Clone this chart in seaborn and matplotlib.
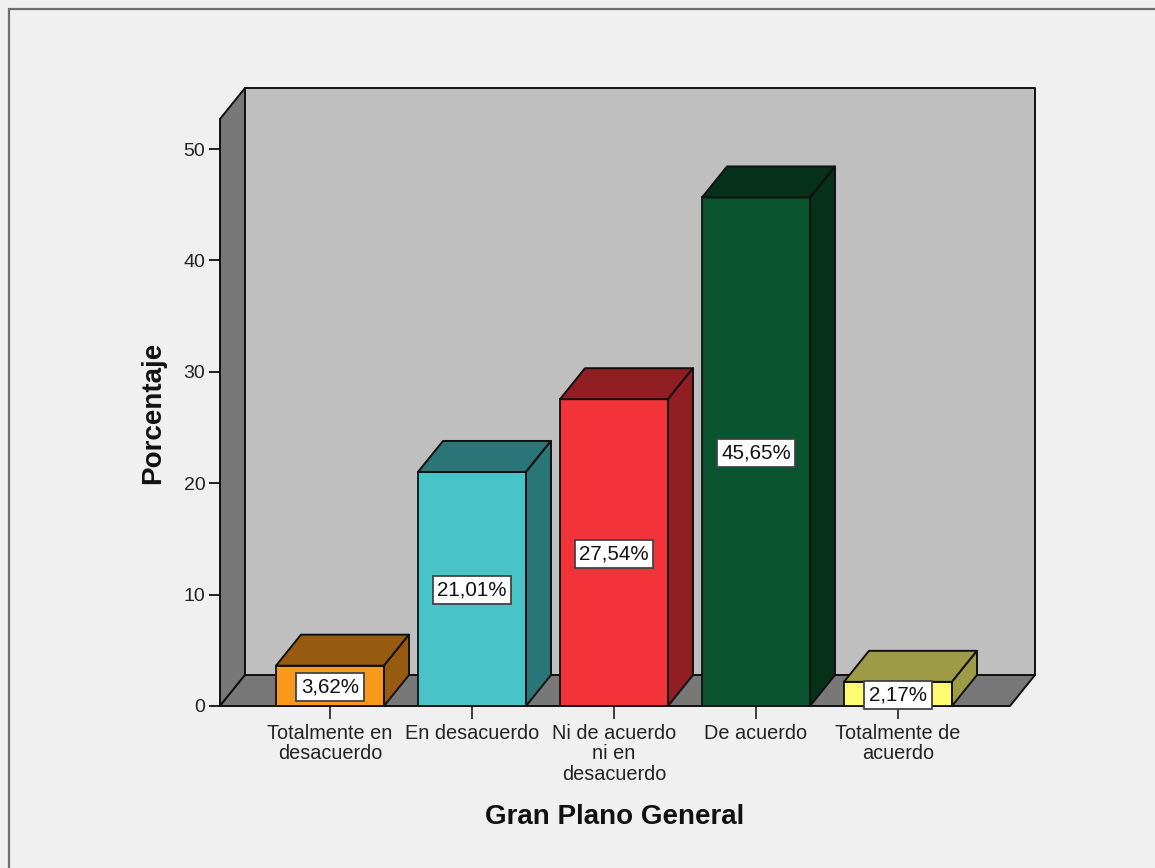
import matplotlib
matplotlib.use("Agg")
import matplotlib.pyplot as plt
import pandas as pd
import seaborn as sns
from matplotlib.lines import Line2D
from matplotlib.patches import Polygon

categories = ["Totalmente en\ndesacuerdo", "En desacuerdo", "Ni de acuerdo\nni en\ndesacuerdo",
              "De acuerdo", "Totalmente de\nacuerdo"]
percent = [3.62, 21.01, 27.54, 45.65, 2.17]
front_colors = ["#F8981D", "#48C3C8", "#F23339", "#0A5530", "#FFFB73"]
side_colors = ["#965B10", "#2A7578", "#911E22", "#063019", "#9D9B45"]
y_ticks = [0, 10, 20, 30, 40, 50]

W, H = 1155, 868
L, R, B, T = 220, 1010, 706, 119      # front plane of the chart, pixels from top-left
PX_PER_UNIT = 11.14
CAT_STEP = 142
CAT0 = 330
DEPTH_X, DEPTH_Y = 25, 31

sns.set_theme(style="white")
plt.rcParams["font.family"] = ["Liberation Sans", "DejaVu Sans"]

fig = plt.figure(figsize=(W / 100, H / 100), dpi=100, facecolor="#F0F0F0")
ax = fig.add_axes([L / W, 1 - B / H, (R - L) / W, (B - T) / H])
ax.patch.set_visible(False)

df = pd.DataFrame({"cat": categories, "pct": percent})
sns.barplot(data=df, x="cat", y="pct", hue="cat", palette=front_colors, saturation=1,
            legend=False, dodge=False, width=108 / CAT_STEP, edgecolor="#101010",
            linewidth=1.3, ax=ax, zorder=5)

ax.set_xlim((L - CAT0) / CAT_STEP, (R - CAT0) / CAT_STEP)
ax.set_ylim(0, (B - T) / PX_PER_UNIT)
dx = DEPTH_X / CAT_STEP
dy = DEPTH_Y / PX_PER_UNIT
x0, x1 = ax.get_xlim()
y0, y1 = ax.get_ylim()

edge = dict(edgecolor="#101010", linewidth=1.4, clip_on=False, joinstyle="round")
ax.add_patch(Polygon([(x0, y0), (x0 + dx, y0 + dy), (x0 + dx, y1 + dy), (x0, y1)],
                     facecolor="#787878", zorder=1, **edge))
ax.add_patch(Polygon([(x0, y0), (x1, y0), (x1 + dx, y0 + dy), (x0 + dx, y0 + dy)],
                     facecolor="#787878", zorder=1, **edge))
ax.add_patch(Polygon([(x0 + dx, y0 + dy), (x1 + dx, y0 + dy), (x1 + dx, y1 + dy), (x0 + dx, y1 + dy)],
                     facecolor="#BFBFBF", zorder=1, **edge))

for bar, side, value in zip(ax.patches[:len(percent)], side_colors, percent):
    a, b = bar.get_x(), bar.get_x() + bar.get_width()
    ax.add_patch(Polygon([(a, value), (b, value), (b + dx, value + dy), (a + dx, value + dy)],
                         facecolor=side, zorder=6, **edge))
    ax.add_patch(Polygon([(b, 0), (b + dx, dy), (b + dx, value + dy), (b, value)],
                         facecolor=side, zorder=6, **edge))
    ax.annotate(f"{value:.2f}%".replace(".", ","), xy=((a + b) / 2, value / 2),
                xytext=(0, -1), textcoords="offset points", ha="center", va="center",
                fontsize=14.8, color="#111111", zorder=8, annotation_clip=False,
                bbox=dict(boxstyle="square,pad=0.22", facecolor="white", edgecolor="#444444", linewidth=1.3))

for s in ax.spines.values():
    s.set_visible(False)
ax.set_yticks(y_ticks)
ax.tick_params(axis="y", left=True, length=8, width=1.3, color="#101010", labelsize=14,
               labelcolor="#222222", pad=2.5)
ax.tick_params(axis="x", bottom=True, length=9.5, width=1.3, color="#303030", labelsize=14.3,
               labelcolor="#222222", pad=3.2)
for lab in ax.get_xticklabels():
    lab.set_linespacing(1.12)

ax.set_xlabel("Gran Plano General", fontsize=20, fontweight="bold", color="#111111", va="center")
ax.xaxis.set_label_coords((615 - L) / (R - L), -(817 - B) / (B - T))
ax.set_ylabel("Porcentaje", fontsize=20, fontweight="bold", color="#111111", va="center")
ax.yaxis.set_label_coords((153 - L) / (R - L), (B - 413) / (B - T))

for xs, ys in (([8.5 / W, 8.5 / W], [0, 1 - 8.5 / H]), ([8.5 / W, 1], [1 - 8.5 / H, 1 - 8.5 / H])):
    fig.add_artist(Line2D(xs, ys, color="#6E6E6E", linewidth=1.6))

fig.savefig("out.png", dpi=100, facecolor=fig.get_facecolor())
